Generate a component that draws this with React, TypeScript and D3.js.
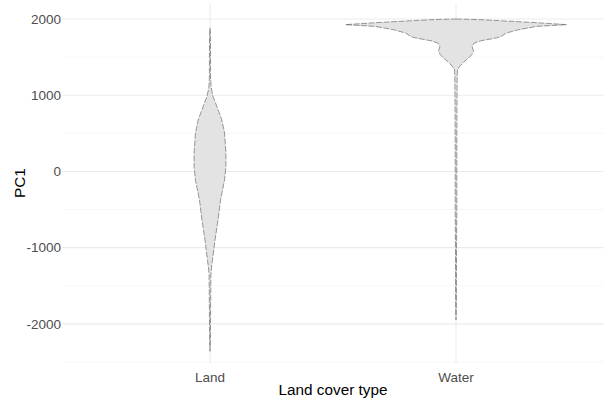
import React from "react";
import * as d3 from "d3";

const categories = ["Land", "Water"];
const yTicks = [-2000, -1000, 0, 1000, 2000];
const yMinorTicks = [-2500, -1500, -500, 500, 1500];

// Violin outlines: PC1 value and relative density (half-width)
const landPC1 = [1882, 1728, 1229, 1097, 984, 857, 678, 503, 245, 65, -110, -372, -634, -766, -897, -1028, -1160, -1265, -1356, -1816, -2210, -2359];
const landDensity = [0, 0.5, 0.6, 1.2, 3, 6.7, 11.7, 14.5, 15.8, 15.8, 14.5, 10.5, 8, 6.5, 5, 3.8, 2.5, 1.5, 0.9, 0.6, 0.4, 0];

const waterPC1 = [2000, 1991, 1969, 1952, 1939, 1926, 1903, 1859, 1816, 1772, 1751, 1715, 1685, 1640, 1575, 1531, 1488, 1440, 1378, 1334, 1269, 941, 612, 284, -530, -1029, -1685, -1947];
const waterDensity = [0, 25, 56, 80, 95, 110, 80, 62, 50, 45, 40, 25, 18, 16, 17.5, 15.5, 12.5, 8, 3.5, 1.5, 1.2, 1.0, 0.9, 0.8, 0.8, 0.5, 0.4, 0];

const W = 609;
const H = 407;
const panel = { left: 62.4, right: 603.6, top: 3, bottom: 363 };
const FONT = "'Liberation Sans', Arial, sans-serif";

export default function App() {
  const x = d3
    .scalePoint<string>()
    .domain(categories)
    .range([panel.left, panel.right])
    .padding(0.6);
  const step = x.step();
  const y = d3.scaleLinear().domain([-2513, 2210]).range([panel.bottom, panel.top]);
  const allD = [...landDensity, ...waterDensity];
  const wScale = d3.scaleLinear().domain([0, d3.max(allD) as number]).range([0, 0.45 * step]);

  const series = [
    { cat: "Land", pc1: landPC1, dens: landDensity },
    { cat: "Water", pc1: waterPC1, dens: waterDensity },
  ];

  const violins = series.map((s) => {
    const cx = x(s.cat) as number;
    const pts = s.pc1.map((v, i) => ({ v, w: s.dens[i] }));
    const area = d3
      .area<{ v: number; w: number }>()
      .y((d) => y(d.v))
      .x0((d) => cx - wScale(d.w))
      .x1((d) => cx + wScale(d.w))
      .curve(d3.curveLinear);
    return { cat: s.cat, path: area(pts) as string };
  });

  return (
    <svg width={W} height={H} style={{ display: "block", position: "absolute", left: 0, top: 0 }} fontFamily={FONT}>
      <rect x={0} y={0} width={W} height={H} fill="#ffffff" />
      {yMinorTicks.map((t) => (
        <line key={"mn" + t} x1={panel.left} x2={panel.right} y1={y(t)} y2={y(t)} stroke="#f2f2f2" strokeWidth={0.6} />
      ))}
      {yTicks.map((t) => (
        <line key={"mj" + t} x1={panel.left} x2={panel.right} y1={y(t)} y2={y(t)} stroke="#ebebeb" strokeWidth={1.1} />
      ))}
      {categories.map((c) => (
        <line key={"vx" + c} x1={x(c)} x2={x(c)} y1={panel.top} y2={panel.bottom} stroke="#ebebeb" strokeWidth={1.1} />
      ))}
      {violins.map((v) => (
        <path
          key={v.cat}
          d={v.path}
          fill="#e3e3e3"
          stroke="#4a4a4a"
          strokeWidth={0.55}
          strokeDasharray="6 1.5"
        />
      ))}
      {yTicks.map((t) => (
        <text key={"yt" + t} x={61} y={y(t)} dy="0.35em" textAnchor="end" fontSize={13.5} fill="#4d4d4d">
          {t}
        </text>
      ))}
      {categories.map((c) => (
        <text key={"xt" + c} x={x(c)} y={381.5} textAnchor="middle" fontSize={13.5} fill="#4d4d4d">
          {c}
        </text>
      ))}
      <text x={(panel.left + panel.right) / 2} y={395} textAnchor="middle" fontSize={15.3} fill="#000000">
        Land cover type
      </text>
      <text
        transform={`translate(24.5, ${(panel.top + panel.bottom) / 2}) rotate(-90)`}
        textAnchor="middle"
        fontSize={15.3}
        fill="#000000"
      >
        PC1
      </text>
    </svg>
  );
}
